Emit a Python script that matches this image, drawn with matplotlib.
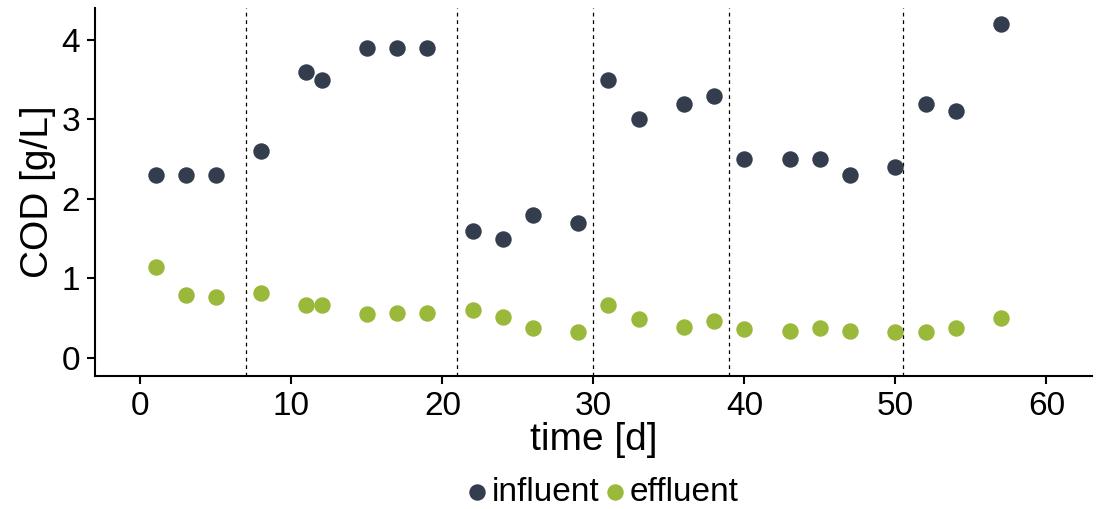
import numpy as np
import matplotlib
matplotlib.use("Agg")
import matplotlib.pyplot as plt

plt.rcParams['font.family'] = ['Liberation Sans', 'DejaVu Sans']

# sampling days
days = [1, 3, 5, 8, 11, 12, 15, 17, 19, 22, 24, 26, 29, 31, 33, 36, 38,
        40, 43, 45, 47, 50, 52, 54, 57]
influent = [2.3, 2.3, 2.3, 2.6, 3.6, 3.5, 3.9, 3.9, 3.9, 1.6, 1.5, 1.8, 1.7,
            3.5, 3.0, 3.2, 3.3, 2.5, 2.5, 2.5, 2.3, 2.4, 3.2, 3.1, 4.2]
effluent = [1.14, 0.79, 0.76, 0.82, 0.66, 0.66, 0.55, 0.56, 0.57, 0.60, 0.52,
            0.37, 0.32, 0.67, 0.49, 0.39, 0.47, 0.36, 0.34, 0.38, 0.34, 0.33,
            0.32, 0.38, 0.50]
# phase boundaries
phases = [7, 21, 30, 39, 50.5]

fig = plt.figure(figsize=(11.06, 5.09), dpi=100)
ax = fig.add_axes([0.086, 0.261, 0.901, 0.723])

for p in phases:
    ax.axvline(p, color='black', lw=0.9, ls=(0, (3, 3)), zorder=1)

ax.scatter(days, influent, s=140, color='#343d4e', label='influent', zorder=3, linewidths=0)
ax.scatter(days, effluent, s=140, color='#9ab83a', label='effluent', zorder=3, linewidths=0)

ax.set_xlim(-3, 63)
ax.set_ylim(-0.23, 4.4)
ax.set_xticks([0, 10, 20, 30, 40, 50, 60])
ax.set_yticks([0, 1, 2, 3, 4])
ax.tick_params(labelsize=24, length=6, width=1.5, direction='out', colors='black', pad=5)
for s in ['top', 'right']:
    ax.spines[s].set_visible(False)
for s in ['left', 'bottom']:
    ax.spines[s].set_linewidth(1.5)

ax.set_xlabel('time [d]', fontsize=28, labelpad=0)
ax.set_ylabel('COD [g/L]', fontsize=28, labelpad=4)

fig.legend(loc='center', bbox_to_anchor=(0.545, 0.033), ncol=2, frameon=False,
           fontsize=24, handlelength=0.6, handletextpad=0.15, columnspacing=0.15,
           borderpad=0, borderaxespad=0)

fig.savefig('out.png', dpi=100)
